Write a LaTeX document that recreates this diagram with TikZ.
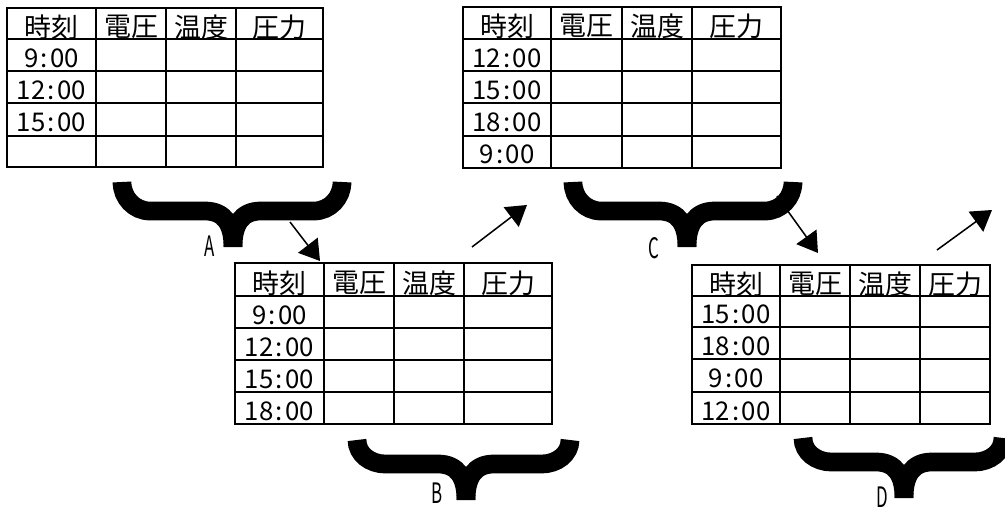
\documentclass[tikz,border=0pt]{standalone}
\usepackage{fontspec}
\setmainfont{Noto Sans CJK JP}
\usetikzlibrary{arrows.meta}

\begin{document}
\begin{tikzpicture}[x=0.03cm, y=-0.03cm,
  tbl/.style={line width=2pt},
  hd/.style={font=\fontsize{23}{23}\selectfont, inner sep=0pt},
  tm/.style={font=\fontsize{22}{22}\selectfont, inner sep=0pt},
  brc/.style={line width=16pt},
  lbl/.style={font=\fontsize{24}{24}\selectfont, inner sep=0pt},
  arr/.style={line width=1.3pt, -{Triangle[length=17pt,width=21pt]}}]
  \useasboundingbox (0,0) rectangle (1005,512);

  % table A
  \draw[tbl] (7,8) rectangle (323,167);
  \draw[tbl] (7,39) -- (323,39) (7,71) -- (323,71) (7,103) -- (323,103) (7,136) -- (323,136);
  \draw[tbl] (96,8) -- (96,167) (166,8) -- (166,167) (236,8) -- (236,167);
  \node[hd] (Ah1) at (51.5,27) {時刻};
  \node[hd] (Ah2) at (131,27) {電圧};
  \node[hd] (Ah3) at (201,27) {温度};
  \node[hd] (Ah4) at (279.5,27) {圧力};
  \node[tm] (At1) at (51.5,58) {9\hspace{0.09em}:\hspace{0.09em}00};
  \node[tm] (At2) at (51.5,90) {12\hspace{0.09em}:\hspace{0.09em}00};
  \node[tm] (At3) at (51.5,122) {15\hspace{0.09em}:\hspace{0.09em}00};

  % table C
  \draw[tbl] (463,7) rectangle (781,168);
  \draw[tbl] (463,39) -- (781,39) (463,71) -- (781,71) (463,103) -- (781,103) (463,136) -- (781,136);
  \draw[tbl] (551,7) -- (551,168) (622,7) -- (622,168) (692,7) -- (692,168);
  \node[hd] (Ch1) at (507,26) {時刻};
  \node[hd] (Ch2) at (586.5,26) {電圧};
  \node[hd] (Ch3) at (657,26) {温度};
  \node[hd] (Ch4) at (736.5,26) {圧力};
  \node[tm] (Ct1) at (507,58) {12\hspace{0.09em}:\hspace{0.09em}00};
  \node[tm] (Ct2) at (507,90) {15\hspace{0.09em}:\hspace{0.09em}00};
  \node[tm] (Ct3) at (507,122) {18\hspace{0.09em}:\hspace{0.09em}00};
  \node[tm] (Ct4) at (507,154) {9\hspace{0.09em}:\hspace{0.09em}00};

  % table B
  \draw[tbl] (235,263) rectangle (552,424);
  \draw[tbl] (235,296) -- (552,296) (235,328) -- (552,328) (235,360) -- (552,360) (235,392) -- (552,392);
  \draw[tbl] (324,263) -- (324,424) (394,263) -- (394,424) (464,263) -- (464,424);
  \node[hd] (Bh1) at (279.5,283) {時刻};
  \node[hd] (Bh2) at (359,283) {電圧};
  \node[hd] (Bh3) at (429,283) {温度};
  \node[hd] (Bh4) at (508,283) {圧力};
  \node[tm] (Bt1) at (279.5,315) {9\hspace{0.09em}:\hspace{0.09em}00};
  \node[tm] (Bt2) at (279.5,347) {12\hspace{0.09em}:\hspace{0.09em}00};
  \node[tm] (Bt3) at (279.5,379) {15\hspace{0.09em}:\hspace{0.09em}00};
  \node[tm] (Bt4) at (279.5,411) {18\hspace{0.09em}:\hspace{0.09em}00};

  % table D
  \draw[tbl] (692,265) rectangle (990,424);
  \draw[tbl] (692,296) -- (990,296) (692,327) -- (990,327) (692,359) -- (990,359) (692,392) -- (990,392);
  \draw[tbl] (780,265) -- (780,424) (850,265) -- (850,424) (920,265) -- (920,424);
  \node[hd] (Dh1) at (736,284) {時刻};
  \node[hd] (Dh2) at (815,284) {電圧};
  \node[hd] (Dh3) at (885,284) {温度};
  \node[hd] (Dh4) at (955,284) {圧力};
  \node[tm] (Dt1) at (736,314) {15\hspace{0.09em}:\hspace{0.09em}00};
  \node[tm] (Dt2) at (736,346) {18\hspace{0.09em}:\hspace{0.09em}00};
  \node[tm] (Dt3) at (736,378) {9\hspace{0.09em}:\hspace{0.09em}00};
  \node[tm] (Dt4) at (736,411) {12\hspace{0.09em}:\hspace{0.09em}00};

  % braces
  \draw[brc] (122,182) to[out=-90,in=180] (150,211) -- (205,211) .. controls (225,211) and (233,225) .. (233,247);
  \draw[brc] (342,182) to[out=-90,in=0] (314,211) -- (261,211) .. controls (241,211) and (233,225) .. (233,247);
  \draw[brc] (357,440) to[out=-90,in=180] (385,464) -- (438,464) .. controls (458,464) and (466,478) .. (466,500);
  \draw[brc] (570,440) to[out=-90,in=0] (542,464) -- (494,464) .. controls (474,464) and (466,478) .. (466,500);
  \draw[brc] (573,182) to[out=-90,in=180] (601,211) -- (659,211) .. controls (679,211) and (687,225) .. (687,247);
  \draw[brc] (793,182) to[out=-90,in=0] (765,211) -- (715,211) .. controls (695,211) and (687,225) .. (687,247);
  \draw[brc] (803,438) to[out=-90,in=180] (831,462) -- (876,462) .. controls (896,462) and (904,476) .. (904,498);
  \draw[brc] (1003,438) to[out=-90,in=0] (975,462) -- (932,462) .. controls (912,462) and (904,476) .. (904,498);

  \node[lbl] (lA) at (210,246) {\scalebox{0.6}[1]{A}};
  \node[lbl] (lB) at (437,493) {\scalebox{0.6}[1]{B}};
  \node[lbl] (lC) at (654,248) {\scalebox{0.6}[1]{C}};
  \node[lbl] (lD) at (882,497) {\scalebox{0.6}[1]{D}};

  % arrows
  \coordinate (a1) at (290,222);
  \coordinate (a2) at (320,261);
  \coordinate (b1) at (472,247);
  \coordinate (b2) at (527,205);
  \coordinate (c1) at (777,196);
  \coordinate (c2) at (818,253);
  \coordinate (d1) at (937,250);
  \coordinate (d2) at (992,210);
  \draw[arr] (a1) -- (a2);
  \draw[arr] (b1) -- (b2);
  \draw[arr] (c1) -- (c2);
  \draw[arr] (d1) -- (d2);
\end{tikzpicture}
\end{document}
